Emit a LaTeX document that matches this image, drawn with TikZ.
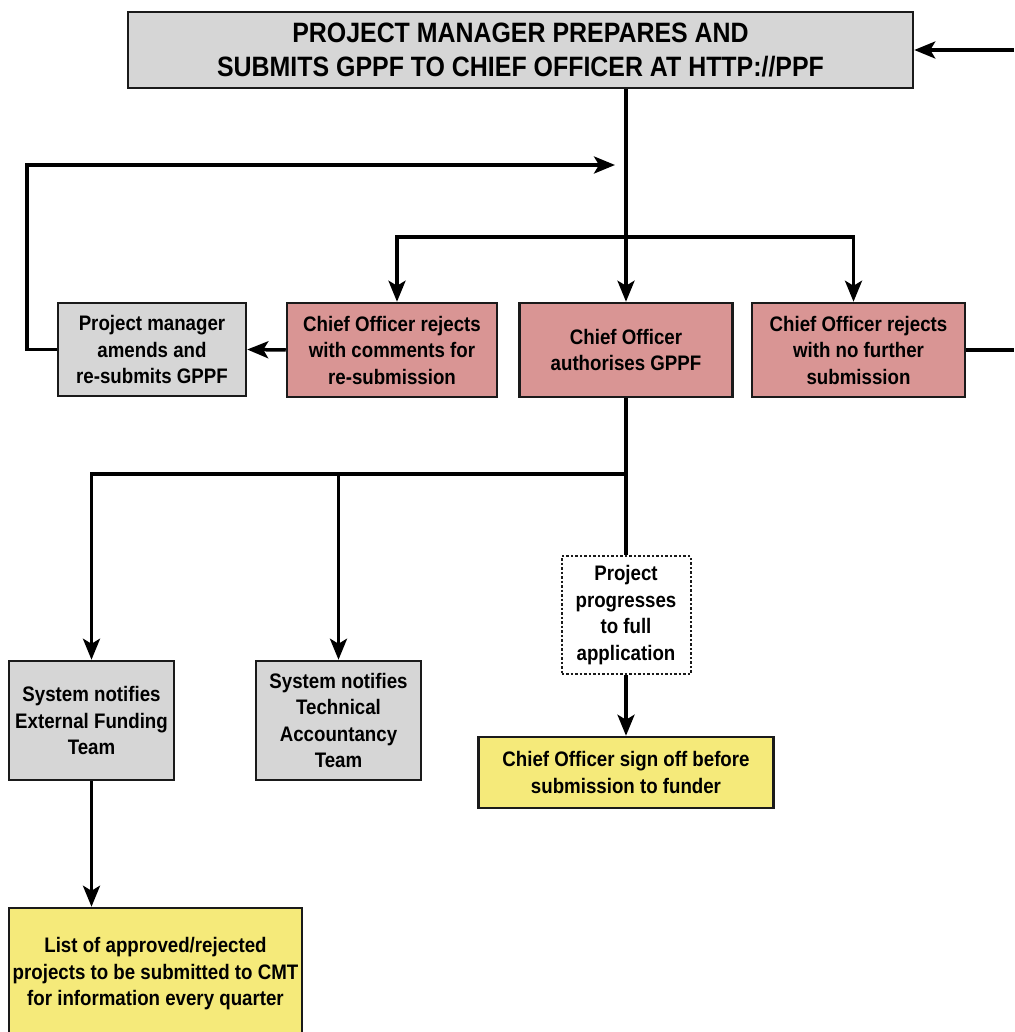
\documentclass[tikz,border=0pt]{standalone}
\usepackage{fontspec}
\setmainfont[FakeStretch=0.89]{Liberation Sans}
\usepackage{tikz}
\usetikzlibrary{positioning}
\usetikzlibrary{arrows.meta}
\usepackage{xcolor}

\definecolor{boxgray}{HTML}{D6D6D6}
\definecolor{boxpink}{HTML}{D99594}
\definecolor{boxyellow}{HTML}{F5EA7A}
\definecolor{edgegray}{HTML}{1A1A1A}

\tikzset{
  flowbox/.style={draw=edgegray, line width=2.5pt, align=center, inner sep=0pt,
    font=\bfseries\fontsize{21}{26.5}\selectfont},
  graybox/.style={flowbox, fill=boxgray},
  pinkbox/.style={flowbox, fill=boxpink},
  yellowbox/.style={flowbox, fill=boxyellow},
  dotbox/.style={flowbox, fill=white, dotted, line width=2pt},
  flow/.style={line width=3.5pt, -{Stealth[length=21pt,width=17pt,inset=5pt]}},
  plainflow/.style={line width=3.5pt}
}

\begin{document}
\begin{tikzpicture}[x=1pt, y=-1pt]

\clip (0,0) rectangle (1014,1032);
\fill[white] (0,0) rectangle (1014,1032);

\node[graybox, minimum width=785pt, minimum height=76pt,
  font=\bfseries\fontsize{28}{34}\selectfont] (title) at (520.5,50)
  {PROJECT MANAGER PREPARES AND\\SUBMITS GPPF TO CHIEF OFFICER AT HTTP://PPF};

\node[graybox, minimum width=188pt, minimum height=93pt] (amend) at (152,349.5)
  {Project manager\\amends and\\re-submits GPPF};
\node[pinkbox, minimum width=210pt, minimum height=94pt] (rejc) at (392,350)
  {Chief Officer rejects\\with comments for\\re-submission};
\node[pinkbox, minimum width=213pt, minimum height=94pt] (auth) at (626,350)
  {Chief Officer\\authorises GPPF};
\node[pinkbox, minimum width=213pt, minimum height=94pt] (rejn) at (858.5,350)
  {Chief Officer rejects\\with no further\\submission};

\node[graybox, minimum width=165pt, minimum height=119pt] (extf) at (91.5,720.5)
  {System notifies\\External Funding\\Team};
\node[graybox, minimum width=165pt, minimum height=119pt] (tech) at (338.5,720.5)
  {System notifies\\Technical\\Accountancy\\Team};
\node[dotbox, minimum width=129pt, minimum height=118pt] (prog) at (626,615)
  {Project\\progresses\\to full\\application};
\node[yellowbox, minimum width=295pt, minimum height=71pt] (signoff) at (626,772.5)
  {Chief Officer sign off before\\submission to funder};
\node[yellowbox, minimum width=293pt, minimum height=132pt] (list) at (155.5,974)
  {List of approved/rejected\\projects to be submitted to CMT\\for information every quarter};

\coordinate (inR) at (1014,50);
\coordinate (outR) at (1014,350);
\coordinate (fork) at (626,237);
\coordinate (loopend) at (615,165);
\coordinate (fork2) at (626,474);

\draw[flow] (inR) -- (title.east |- inR);
\draw[flow] (title.south -| auth.north) -- (auth.north);
\draw[flow] (fork) -| ([xshift=5pt]rejc.north);
\draw[flow] (fork) -| ([xshift=-5pt]rejn.north);
\draw[flow] (amend.west) -- ++(-30,0) |- (loopend);
\draw[flow] (rejc.west) -- (amend.east);
\draw[plainflow] (rejn.east) -- (outR);

\draw[plainflow] (auth.south) -- (prog.north);
\draw[flow] (fork2) -| (extf.north);
\draw[flow] (fork2) -| (tech.north);
\draw[flow] (prog.south) -- (signoff.north);
\draw[flow] (extf.south) -- (extf.south |- list.north);

\end{tikzpicture}
\end{document}
